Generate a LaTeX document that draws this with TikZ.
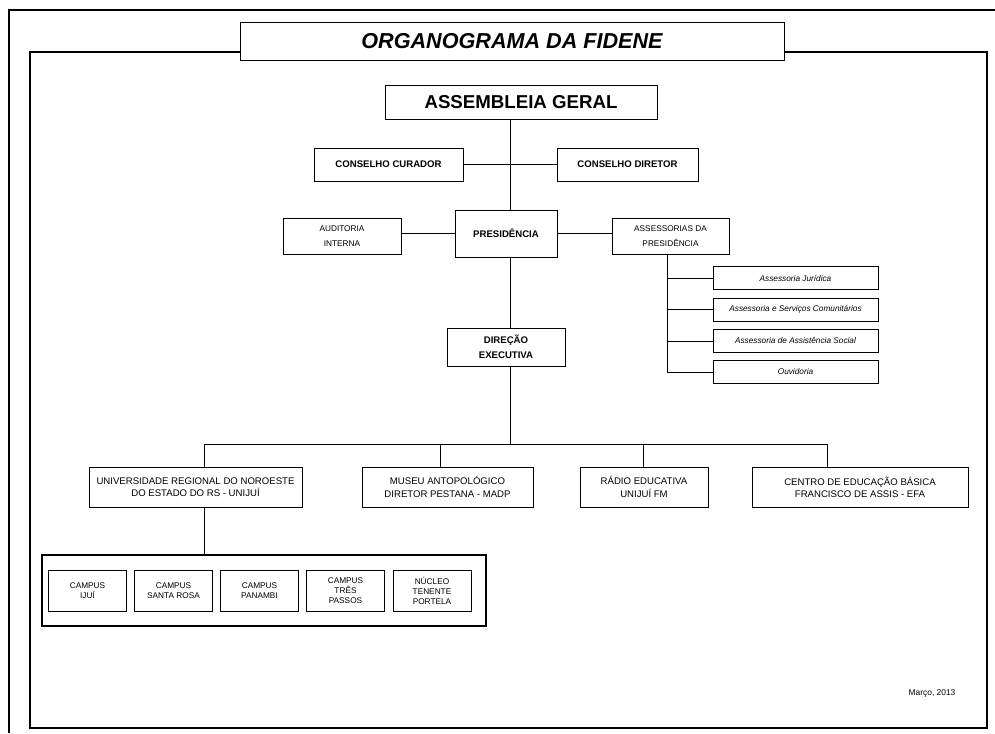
\documentclass[tikz,border=0pt]{standalone}
\usepackage{fontspec}
\setmainfont{Liberation Sans}
\usetikzlibrary{calc}

\tikzset{
  box/.style={draw, fill=white, align=center, inner sep=0pt, line width=0.7pt},
  bigtxt/.style={font=\fontsize{14}{16}\selectfont\bfseries},
  boldtxt/.style={font=\fontsize{7.2}{11.2}\selectfont\bfseries},
  plaintxt/.style={font=\fontsize{6.2}{11.2}\selectfont},
  subtxt/.style={font=\fontsize{6.2}{8}\selectfont\itshape},
  unittxt/.style={font=\fontsize{7.2}{9.2}\selectfont},
  campustxt/.style={font=\fontsize{6.2}{7.5}\selectfont},
}

\begin{document}
\begin{tikzpicture}[x=0.75pt, y=-0.75pt, line width=0.7pt]
        \useasboundingbox (0,0) rectangle (995,733);

        % frames
        \draw [line width=1.5pt] (9,733) -- (9,10) -- (995,10);
        \draw [line width=1.1pt] (30,52) rectangle (987,728);

        \node [box, minimum width=408pt, minimum height=28.5pt, font=\fontsize{16.2}{18}\selectfont\bfseries\itshape] (title) at (512,41) {ORGANOGRAMA DA FIDENE};

        % top of the chart
        \coordinate (spine) at (510,0);
        \node [box, bigtxt, minimum width=204pt, minimum height=25.5pt] (assembleia) at (521,102) {ASSEMBLEIA GERAL};
        \node [box, boldtxt, minimum width=111.75pt, minimum height=24.75pt] (curador) at (388.5,164.5) {CONSELHO CURADOR};
        \node [box, boldtxt, minimum width=105.75pt, minimum height=24.75pt] (diretor) at (627.5,164.5) {CONSELHO DIRETOR};
        \node [box, boldtxt, minimum width=76.5pt, minimum height=35.25pt] (presid) at (506,233.5) {PRESIDÊNCIA};
        \node [box, plaintxt, minimum width=88.5pt, minimum height=27pt] (auditoria) at (342,236) {AUDITORIA\\INTERNA};
        \node [box, plaintxt, minimum width=87.75pt, minimum height=27pt] (assess) at (670.5,236) {ASSESSORIAS DA\\PRESIDÊNCIA};
        \node [box, boldtxt, minimum width=88.5pt, minimum height=28.5pt] (direcao) at (506,347) {DIREÇÃO\\EXECUTIVA};

        \draw (assembleia.south -| spine) -- (presid.north -| spine);
        \draw (curador.east) -- (diretor.west);
        \draw (presid.south -| spine) -- (direcao.north -| spine);
        \draw (presid.west -| auditoria.east) -- (presid.west);
        \draw (presid.east) -- (presid.east -| assess.west);

        % assessorias
        \coordinate (arm) at (667,0);
        \node [box, subtxt, minimum width=123.75pt, minimum height=17.25pt] (juridica) at (795.5,278) {Assessoria Jurídica};
        \node [box, subtxt, minimum width=123.75pt, minimum height=17.25pt] (servicos) at (795.5,309.5) {Assessoria e Serviços Comunitários};
        \node [box, subtxt, minimum width=123.75pt, minimum height=17.25pt] (social) at (795.5,341) {Assessoria de Assistência Social};
        \node [box, subtxt, minimum width=123.75pt, minimum height=17.25pt] (ouvidoria) at (795.5,372) {Ouvidoria};

        \draw (assess.south -| arm) |- (ouvidoria.west);
        \draw (juridica.west -| arm) -- (juridica.west);
        \draw (servicos.west -| arm) -- (servicos.west);
        \draw (social.west -| arm) -- (social.west);

        % units
        \node [box, unittxt, minimum width=159.75pt, minimum height=30pt] (unijui) at (195.5,487) {UNIVERSIDADE REGIONAL DO NOROESTE\\DO ESTADO DO RS - UNIJUÍ};
        \node [box, unittxt, minimum width=128.25pt, minimum height=30pt] (museu) at (447.5,487) {MUSEU ANTOPOLÓGICO\\DIRETOR PESTANA - MADP};
        \node [box, unittxt, minimum width=96pt, minimum height=30pt] (radio) at (644,487) {RÁDIO EDUCATIVA\\UNIJUÍ FM};
        \node [box, unittxt, minimum width=162pt, minimum height=30pt] (efa) at (860,487) {CENTRO DE EDUCAÇÃO BÁSICA\\FRANCISCO DE ASSIS - EFA};

        \coordinate (bar1) at (204,444);
        \coordinate (bar2) at (440,444);
        \coordinate (bar3) at (643,444);
        \coordinate (bar4) at (827,444);
        \draw (direcao.south -| spine) -- (spine |- bar1);
        \draw (bar1 |- unijui.north) -- (bar1) -- (bar4) -- (bar4 |- efa.north);
        \draw (bar2) -- (bar2 |- museu.north);
        \draw (bar3) -- (bar3 |- radio.north);

        % campi
        \node [draw, line width=1pt, minimum width=333pt, minimum height=53.25pt] (campi) at (264,590.5) {};
        \node [box, campustxt, minimum width=58.5pt, minimum height=30.75pt] (ijui) at (87.5,590.5) {CAMPUS\\IJUÍ};
        \node [box, campustxt, minimum width=58.5pt, minimum height=30.75pt] (santarosa) at (173.5,590.5) {CAMPUS\\SANTA ROSA};
        \node [box, campustxt, minimum width=58.5pt, minimum height=30.75pt] (panambi) at (259.5,590.5) {CAMPUS\\PANAMBI};
        \node [box, campustxt, minimum width=58.5pt, minimum height=30.75pt] (trespassos) at (345.5,590.5) {CAMPUS\\TRÊS\\PASSOS};
        \node [box, campustxt, minimum width=58.5pt, minimum height=30.75pt] (portela) at (432,590.5) {NÚCLEO\\TENENTE\\PORTELA};

        \draw (unijui.south -| bar1) -- (campi.north -| bar1);

        \node [font=\fontsize{6.3}{8}\selectfont] (data) at (932,693) {Março, 2013};
    \end{tikzpicture}
\end{document}
